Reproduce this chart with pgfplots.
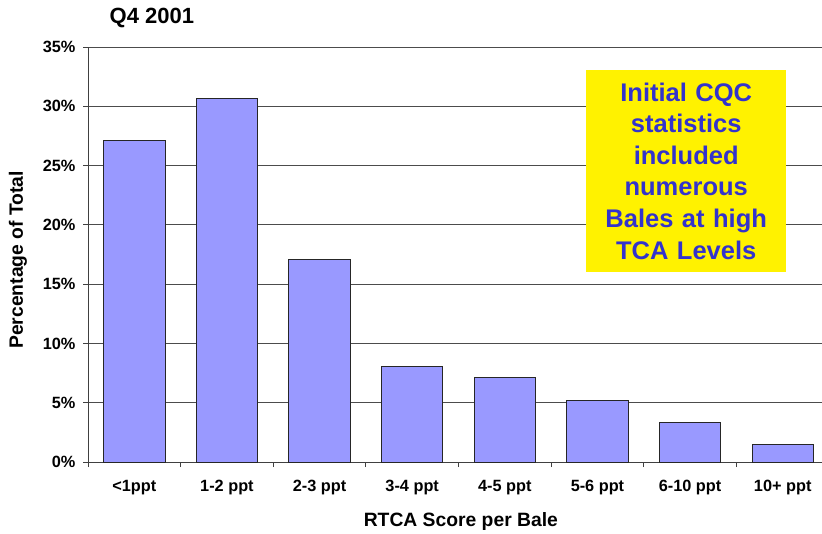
\documentclass[border=0pt]{standalone}
\usepackage{fontspec}
\setmainfont{Liberation Sans}
\usepackage{pgfplots}
\pgfplotsset{compat=1.18}
\definecolor{barfill}{HTML}{9999FF}
\definecolor{boxtext}{HTML}{3333CC}
\begin{document}
\begin{tikzpicture}[x=1pt,y=1pt]
\path[use as bounding box] (0,0) rectangle (822,533);
\begin{axis}[
  at={(88pt,71pt)}, anchor=south west,
  width=734pt, height=415pt, scale only axis,
  xmin=-0.5, xmax=7.424,
  ymin=0, ymax=35,
  axis x line*=bottom, axis y line*=left,
  axis line style={draw=black!75, line width=0.9pt},
  xtick={0,1,2,3,4,5,6,7},
  xticklabels={{<1ppt},{1-2 ppt},{2-3 ppt},{3-4 ppt},{4-5 ppt},{5-6 ppt},{6-10 ppt},{10+ ppt}},
  major x tick style={draw=none},
  minor xtick={-0.5,0.5,1.5,2.5,3.5,4.5,5.5,6.5},
  minor x tick style={draw=black!75, line width=0.9pt},
  minor tick length=5pt,
  tick align=outside,
  ytick={0,5,10,15,20,25,30,35},
  yticklabels={0\%,5\%,10\%,15\%,20\%,25\%,30\%,35\%},
  major tick length=5pt,
  ytick style={draw=black!75, line width=0.9pt},
  ymajorgrids,
  grid style={draw=black!70, line width=0.8pt},
  ticklabel style={font=\fontsize{16.3}{19}\selectfont\bfseries},
  yticklabel style={xshift=-4pt},
  xticklabel style={yshift=-10pt},
  xlabel={RTCA Score per Bale},
  ylabel={Percentage of Total},
  label style={font=\fontsize{19.3}{23}\selectfont\bfseries},
  xlabel style={at={(axis description cs:0.508,-0.143)}, anchor=center},
  ylabel style={at={(axis description cs:-0.0954,0.487)}, anchor=center, rotate=0},
  title={Q4 2001},
  title style={at={(axis description cs:0.087,1.056)}, anchor=center, font=\fontsize{22}{26}\selectfont\bfseries},
  clip=false,
]
\addplot[ybar, bar width=0.662, fill=barfill, draw=black!85, line width=0.9pt]
  coordinates {(0,27.1) (1,30.65) (2,17.05) (3,8.05) (4,7.15) (5,5.2) (6,3.35) (7,1.45)};
\node[fill=yellow, text=boxtext, minimum width=200pt, minimum height=202pt,
  text width=198pt, align=center, inner sep=0pt,
  font=\fontsize{25.5}{31.6}\selectfont\bfseries]
  at (axis description cs:0.815,0.701)
  {Initial CQC\\statistics\\included\\numerous\\Bales at high\\TCA Levels};
\end{axis}
\end{tikzpicture}
\end{document}
